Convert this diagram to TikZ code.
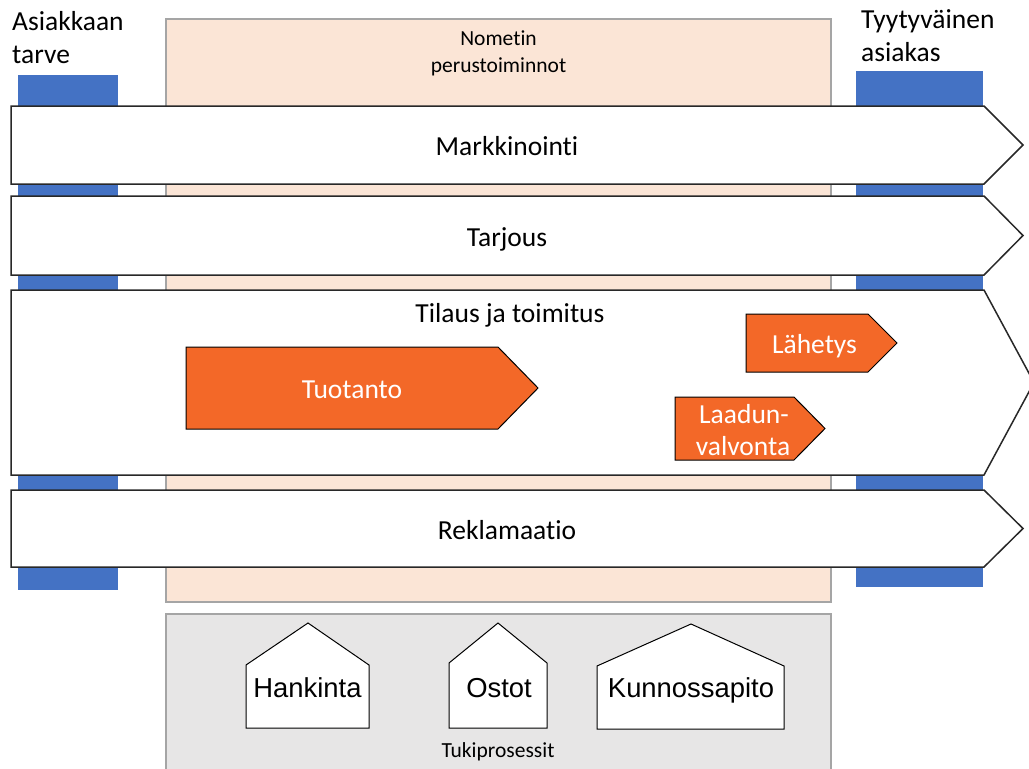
\documentclass[tikz,border=0pt]{standalone}
\usepackage{fontspec}
\setmainfont{Carlito}[Ligatures=NoCommon]
\newfontfamily\arialf{Liberation Sans}
\definecolor{peach}{RGB}{251,229,214}
\definecolor{supgray}{RGB}{231,230,230}
\definecolor{bluebar}{RGB}{68,114,196}
\definecolor{orangef}{RGB}{243,104,40}
\definecolor{edgegray}{RGB}{165,165,165}
\definecolor{arrowedge}{RGB}{40,40,40}
\begin{document}
\begin{tikzpicture}[x=1pt,y=-1pt,
  lbl/.style={inner sep=0pt, anchor=base, font=\fontsize{27.5}{33}\selectfont},
  lblw/.style={lbl, anchor=base west},
  small/.style={inner sep=0pt, anchor=base, font=\fontsize{21.5}{26}\selectfont},
  houselbl/.style={inner sep=0pt, anchor=base, font=\arialf\fontsize{27.4}{33}\selectfont},
  wlbl/.style={lbl, text=white},
  area/.style={draw=edgegray, line width=1.2pt},
  bar/.style={fill=bluebar, draw=none},
  flow/.style={draw=arrowedge, fill=white, line width=1.5pt, line join=miter},
  task/.style={draw=black, fill=orangef, line width=1pt},
  house/.style={draw=black, fill=white, line width=1pt}]
\useasboundingbox (0,0) rectangle (1029,769);

% background areas
\draw[area, fill=peach] (166,19) rectangle (831,602);
\draw[area, fill=supgray] (166,614) rectangle (831,780);

% blue bars
\fill[bar] (18,75) rectangle (118,590);
\fill[bar] (856,71) rectangle (983,587);

% main process arrows
\draw[flow] (11,106) -- (984,106) -- (1023,145) -- (984,184) -- (11,184) -- cycle;
\draw[flow] (11,196) -- (984,196) -- (1023,235.5) -- (984,275) -- (11,275) -- cycle;
\draw[flow] (11,290) -- (984,290) -- (1034,382.5) -- (984,475) -- (11,475) -- cycle;
\draw[flow] (11,490) -- (984,490) -- (1023,528.5) -- (984,567) -- (11,567) -- cycle;

% sub tasks
\draw[task] (186,347) -- (498,347) -- (538,388) -- (498,429) -- (186,429) -- cycle;
\draw[task] (746,314) -- (868,314) -- (897,343) -- (868,372) -- (746,372) -- cycle;
\draw[task] (675,397) -- (794,397) -- (825,428.5) -- (794,460) -- (675,460) -- cycle;

% houses
\draw[house] (246,728) -- (246,665) -- (308,623) -- (369,665) -- (369,728) -- cycle;
\draw[house] (449,728) -- (449,663) -- (498,623) -- (547,663) -- (547,728) -- cycle;
\draw[house] (597,729) -- (597,666) -- (691,624) -- (784,666) -- (784,729) -- cycle;

% texts
\node[lblw] (need1) at (12,30) {Asiakkaan};
\node[lblw] (need2) at (12,63) {tarve};
\node[lblw] (sat1) at (861,28) {Tyytyväinen};
\node[lblw] (sat2) at (861,61) {asiakas};
\node[small] (core1) at (498.5,45) {Nometin};
\node[small] (core2) at (498.5,72) {perustoiminnot};
\node[lbl] (mark) at (507,155) {Markkinointi};
\node[lbl] (tarj) at (507,246) {Tarjous};
\node[lbl] (tila) at (510,322) {Tilaus ja toimitus};
\node[lbl] (rekl) at (507,539) {Reklamaatio};
\node[wlbl] (tuot) at (352,398) {Tuotanto};
\node[wlbl] (lahe) at (814.5,353) {Lähetys};
\node[wlbl] (laad1) at (744,423) {Laadun-};
\node[wlbl] (laad2) at (743,455) {valvonta};
\node[houselbl] (hank) at (307.5,697) {Hankinta};
\node[houselbl] (osto) at (499,697) {Ostot};
\node[houselbl] (kunn) at (691,697) {Kunnossapito};
\node[small] (tuki) at (498,757) {Tukiprosessit};
\end{tikzpicture}
\end{document}
